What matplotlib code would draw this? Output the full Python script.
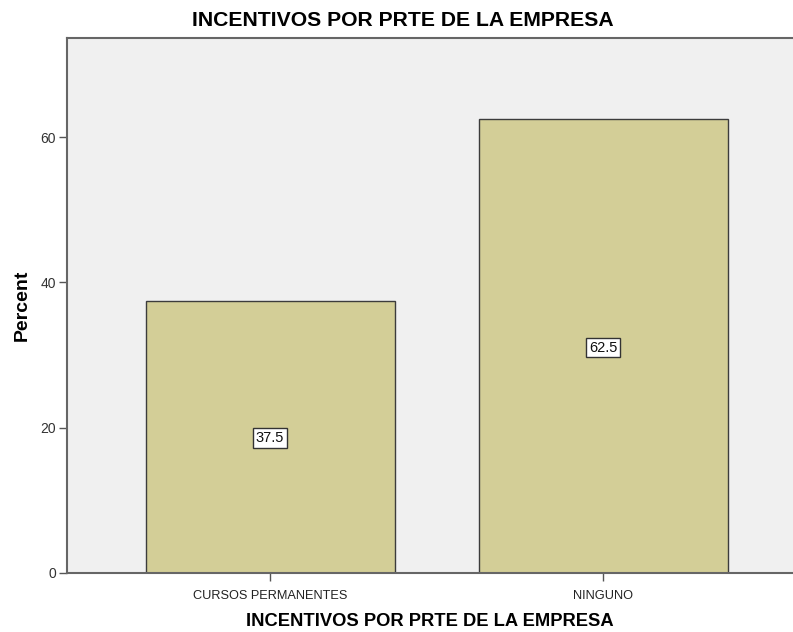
import matplotlib
matplotlib.use("Agg")
import matplotlib.pyplot as plt

categories = ["CURSOS PERMANENTES", "NINGUNO"]
percents = [37.5, 62.5]
yticks = [0, 20, 40, 60]
title = "INCENTIVOS POR PRTE DE LA EMPRESA"

plt.rcParams['font.family'] = ['Liberation Sans', 'DejaVu Sans']

fig = plt.figure(figsize=(7.93, 6.32), dpi=100)
ax = fig.add_axes([67/793, 59/632, 1 - 67/793, (573-37.7)/632])
ax.set_facecolor("#F0F0F0")

x = list(range(len(categories)))
ax.bar(x, percents, width=0.748, color="#D3CE97", edgecolor="#3C3C3C", linewidth=1.0, zorder=2)
for xi, v in zip(x, percents):
    ax.text(xi, v/2, f"{v:.1f}", ha="center", va="center_baseline", fontsize=10.5, color="#111111",
            bbox=dict(boxstyle="square,pad=0.2", facecolor="white", edgecolor="#333333", linewidth=1.0),
            zorder=3)

ax.set_xlim(-0.61, 1.57)
ax.set_ylim(0, 73.7)
ax.set_xticks(x)
ax.set_xticklabels(categories, fontsize=9.2, color="#222222")
ax.set_yticks(yticks)
ax.set_yticklabels([str(t) for t in yticks], fontsize=10, color="#333333")
ax.tick_params(axis="both", direction="out", length=6, width=1, color="#555555")
ax.tick_params(axis="x", pad=6)
ax.tick_params(axis="y", pad=2)

for s in ["left", "bottom", "top"]:
    ax.spines[s].set_color("#666666")
    ax.spines[s].set_linewidth(1.5)
ax.spines["right"].set_visible(False)

ax.set_ylabel("Percent", fontsize=14, fontweight="bold", labelpad=7)
ax.set_xlabel(title, fontsize=13.2, fontweight="bold", labelpad=8)
fig.text(403/793, 1 - 20.5/632, title, ha="center", va="center", fontsize=15.2, fontweight="bold")

fig.savefig("out.png", dpi=100)
